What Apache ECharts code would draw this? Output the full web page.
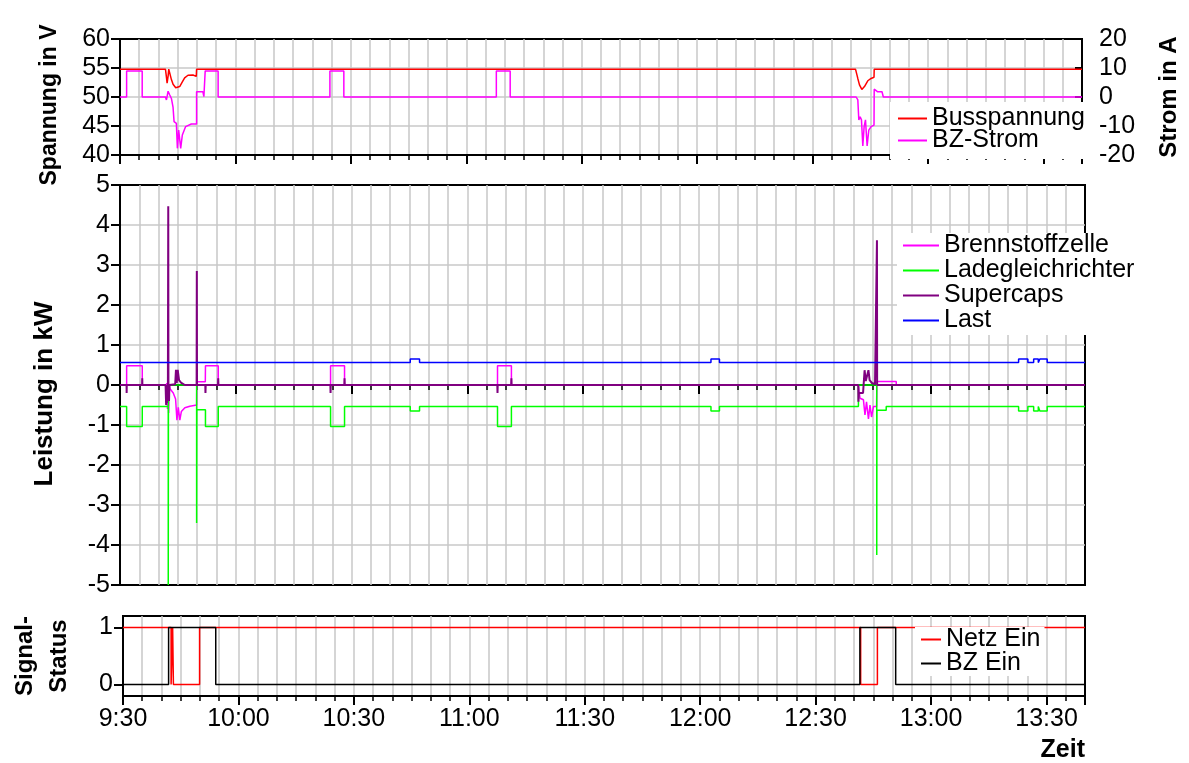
<!DOCTYPE html>
<html><head><meta charset="utf-8">
<script src="https://cdn.jsdelivr.net/npm/echarts@6/dist/echarts.min.js"></script>
<style>html,body{margin:0;padding:0;background:#fff}#c{width:1189px;height:763px}</style>
</head><body><div id="c"></div><script>
// x values: minutes after 9:30
const xTickLabels = ['9:30','10:00','10:30','11:00','11:30','12:00','12:30','13:00','13:30'];

// top panel
const busspannung = [[0,54.8],[11.81,54.8],[12.05,53.5],[12.24,52.4],[12.5,53.6],[12.67,54.8],[12.93,54.6],[13.36,53.0],[13.79,52.2],[14.48,51.6],[14.91,51.35],[15.51,51.8],[16.2,52.6],[16.8,53.3],[17.67,53.75],[18.96,53.8],[19.82,53.55],[19.9,54.8],[191.14,54.8],[191.74,53.2],[192.17,52.1],[192.78,51.3],[193.04,51.2],[193.47,51.8],[194.33,52.8],[195.19,53.2],[195.95,53.4],[196.0,54.8],[250,54.8]];
const bzStrom = [[0,0],[1.72,0],[1.72,9],[5.77,9],[5.77,0],[11.81,0],[12.07,-1.0],[12.5,2.0],[12.93,0.7],[13.36,-0.5],[13.79,-3.6],[14.05,-8.5],[14.65,-9.1],[14.91,-17.7],[15.25,-11.4],[15.6,-12],[15.77,-17.7],[16.2,-13.1],[17.06,-10.2],[18.53,-9.3],[19.9,-9.3],[19.9,1.8],[21.54,1.8],[21.8,0.1],[22.14,0.1],[22.14,9],[25.5,9],[25.5,0],[54.55,0],[54.55,9],[58.17,9],[58.17,0],[97.8,0],[97.8,9],[101.4,9],[101.4,0],[191.31,0],[191.74,-1.0],[192.0,-7.9],[192.34,-6.8],[192.69,-7.9],[193.04,-16.9],[193.38,-10.2],[193.73,-7.9],[194.16,-16.9],[194.59,-11.4],[195.19,-10.2],[195.95,-9.7],[196.0,2.7],[196.91,1.8],[198.03,1.8],[198.37,0],[250,0]];

// middle panel (kW)
const brennstoffzelle = [[0,0],[1.72,0],[1.72,0.48],[5.77,0.48],[5.77,0],[11.81,0],[12.0,-0.3],[12.1,0.05],[12.3,-0.6],[12.45,0.05],[12.6,-0.7],[12.75,0.0],[13.0,-0.1],[13.8,-0.2],[14.4,-0.35],[14.75,-0.88],[15.1,-0.56],[15.5,-0.88],[15.9,-0.66],[16.8,-0.57],[18.1,-0.53],[19.85,-0.5],[19.9,0.08],[22.1,0.08],[22.14,0.48],[25.45,0.48],[25.45,0],[54.55,0],[54.55,0.48],[58.17,0.48],[58.17,0],[97.8,0],[97.8,0.48],[101.4,0.48],[101.4,0],[191.3,0],[191.7,-0.33],[192.6,-0.37],[193.0,-0.75],[193.4,-0.42],[193.9,-0.85],[194.3,-0.5],[194.7,-0.8],[195.2,-0.54],[196.0,-0.54],[196.1,0.09],[201.1,0.09],[201.1,0],[250,0]];
const ladegleichrichter = [[0,-0.54],[1.72,-0.54],[1.72,-1.04],[5.77,-1.04],[5.77,-0.54],[12.5,-0.54],[12.5,-5.0],[12.55,0.0],[19.85,0.0],[19.85,-3.45],[19.9,-0.62],[22.14,-0.62],[22.14,-1.04],[25.45,-1.04],[25.45,-0.54],[54.55,-0.54],[54.55,-1.04],[58.17,-1.04],[58.17,-0.54],[75.2,-0.54],[75.2,-0.65],[77.6,-0.65],[77.6,-0.54],[97.8,-0.54],[97.8,-1.04],[101.4,-1.04],[101.4,-0.54],[153.1,-0.54],[153.1,-0.65],[155.3,-0.65],[155.3,-0.54],[191.3,-0.54],[191.3,0.0],[196.05,0.0],[196.05,-4.25],[196.1,-0.63],[198.5,-0.63],[198.5,-0.54],[232.8,-0.54],[232.8,-0.65],[235.2,-0.65],[235.2,-0.54],[236.7,-0.54],[236.7,-0.65],[237.9,-0.65],[237.9,-0.54],[238.3,-0.54],[238.3,-0.65],[240.2,-0.65],[240.2,-0.54],[250,-0.54]];
const supercaps = [[0,0],[1.7,0],[1.72,-0.2],[1.75,0],[5.75,0],[5.77,0.17],[5.8,0],[11.81,0],[11.95,-0.5],[12.05,0],[12.15,-0.45],[12.25,0],[12.4,-0.35],[12.5,4.47],[12.55,0],[12.7,-0.4],[12.8,0],[14.3,0.02],[14.5,0.38],[14.7,0.05],[14.95,0.38],[15.3,0.12],[15.8,0.06],[16.8,0],[19.85,0],[19.9,2.85],[19.95,0],[22.1,0],[22.14,-0.2],[22.2,0],[25.4,0],[25.45,0.17],[25.5,0],[54.5,0],[54.55,-0.2],[54.6,0],[58.12,0],[58.17,0.17],[58.22,0],[97.75,0],[97.8,-0.2],[97.85,0],[101.35,0],[101.4,0.17],[101.45,0],[191.25,0],[191.3,-0.42],[191.4,-0.2],[192.5,-0.2],[192.9,0.37],[193.2,0.1],[193.5,0.05],[193.9,0.37],[194.2,0.12],[194.8,0.05],[195.6,0.02],[196.05,0],[196.1,3.62],[196.15,0],[250,0]];
const last = [[0,0.56],[75.2,0.56],[75.2,0.65],[77.6,0.65],[77.6,0.56],[153.1,0.56],[153.1,0.65],[155.3,0.65],[155.3,0.56],[232.8,0.56],[232.8,0.65],[235.2,0.65],[235.2,0.56],[236.7,0.56],[236.7,0.65],[237.9,0.65],[237.9,0.56],[238.3,0.56],[238.3,0.65],[240.2,0.65],[240.2,0.56],[250,0.56]];

// bottom panel (status)
const netzEin = [[0,1],[12.5,1],[12.5,0],[12.9,0],[12.9,1],[13.1,1],[13.1,0],[19.9,0],[19.9,1],[191.7,1],[191.7,0],[196.05,0],[196.05,1],[250,1]];
const bzEin = [[0,0],[11.85,0],[11.85,1],[24.1,1],[24.1,0],[191.5,0],[191.5,1],[200.8,1],[200.8,0],[250,0]];

const FONT = '"Liberation Sans", Arial, Helvetica, sans-serif';
const GRID_C = '#c8c8c8';
const FS = 25;

function xAxisCfg(gi, showLabel, onZero) {
  return {
    type: 'value', gridIndex: gi, min: 0, max: 250, interval: 30,
    axisLine: { show: true, onZero: onZero, lineStyle: { color: '#000', width: 2 } },
    axisTick: { show: true, length: 9, lineStyle: { color: '#000', width: 2 } },
    minorTick: { show: true, splitNumber: 6, length: 5, lineStyle: { color: '#000', width: 1.5 } },
    splitLine: { show: true, showMinLine: false, showMaxLine: false, lineStyle: { color: GRID_C, width: 1.5 } },
    minorSplitLine: { show: true, lineStyle: { color: GRID_C, width: 1.5 } },
    axisLabel: { show: showLabel, fontSize: FS, fontFamily: FONT, color: '#000', margin: 11,
      formatter: v => xTickLabels[Math.round(v / 30)] || '' }
  };
}
function nameStyle(size) {
  return { fontSize: size, fontWeight: 'bold', fontFamily: FONT, color: '#000' };
}
const lab = { fontSize: FS, fontFamily: FONT, color: '#000', margin: 10 };
const spl = { show: true, showMinLine: false, showMaxLine: false, lineStyle: { color: GRID_C, width: 1.5 } };
const legText = { fontSize: FS, fontFamily: FONT, color: '#000' };

function lineSeries(name, xi, yi, data, color, width) {
  return { name: name, type: 'line', xAxisIndex: xi, yAxisIndex: yi, data: data, symbol: 'none',
    color: color, lineStyle: { width: width }, smooth: false };
}

const option = {
  animation: false,
  backgroundColor: '#fff',
  title: { text: 'Zeit', right: 104, top: 738, padding: 0,
    textStyle: { fontSize: 25, fontWeight: 'bold', fontFamily: FONT, color: '#000' } },
  grid: [
    { left: 120, width: 965, top: 39, height: 116, show: true, borderColor: '#000', borderWidth: 2, backgroundColor: 'transparent' },
    { left: 120, width: 965, top: 185, height: 400, show: true, borderColor: '#000', borderWidth: 2, backgroundColor: 'transparent' },
    { left: 120, width: 965, top: 616, height: 80, show: true, borderColor: '#000', borderWidth: 2, backgroundColor: 'transparent' }
  ],
  xAxis: [ xAxisCfg(0, false, false), xAxisCfg(1, false, true), xAxisCfg(2, true, false) ],
  yAxis: [
    { type: 'value', gridIndex: 0, min: 40, max: 60, interval: 5,
      name: 'Spannung in V', nameLocation: 'middle', nameGap: 59,
      nameTextStyle: Object.assign(nameStyle(23), { padding: [0, 16, 0, 0] }),
      axisLine: { show: true, lineStyle: { color: '#000', width: 2 } },
      axisTick: { show: true, length: 9, lineStyle: { color: '#000', width: 2 } },
      axisLabel: lab, splitLine: spl },
    { type: 'value', gridIndex: 0, position: 'right', min: -20, max: 20, interval: 10,
      name: 'Strom in A', nameLocation: 'middle', nameGap: 75, nameRotate: 90,
      nameTextStyle: nameStyle(24),
      axisLine: { show: true, lineStyle: { color: '#000', width: 2 } },
      axisTick: { show: true, inside: true, length: 7, lineStyle: { color: '#000', width: 2 } },
      axisLabel: Object.assign({}, lab, { margin: 17 }), splitLine: { show: false } },
    { type: 'value', gridIndex: 1, min: -5, max: 5, interval: 1,
      name: 'Leistung in kW', nameLocation: 'middle', nameGap: 62,
      nameTextStyle: Object.assign(nameStyle(26), { padding: [0, 18, 0, 0] }),
      axisLine: { show: true, lineStyle: { color: '#000', width: 2 } },
      axisTick: { show: true, length: 9, lineStyle: { color: '#000', width: 2 } },
      axisLabel: lab, splitLine: spl },
    { type: 'value', gridIndex: 2, min: -0.2, max: 1.2,
      name: 'Signal-\nStatus', nameLocation: 'middle', nameGap: 47,
      nameTextStyle: Object.assign(nameStyle(24), { lineHeight: 34 }),
      axisLine: { show: true, lineStyle: { color: '#000', width: 2 } },
      axisTick: { show: true, length: 9, customValues: [0, 1], lineStyle: { color: '#000', width: 2 } },
      axisLabel: Object.assign({}, lab, { customValues: [0, 1] }), splitLine: { show: false } }
  ],
  legend: [
    { data: ['Busspannung', 'BZ-Strom'], orient: 'vertical', left: 890, top: 102,
      padding: [4, 6, 6, 8], itemGap: -3, icon: 'rect', itemWidth: 29, itemHeight: 2,
      backgroundColor: '#fff', textStyle: legText },
    { data: ['Brennstoffzelle', 'Ladegleichrichter', 'Supercaps', 'Last'], orient: 'vertical', left: 897, top: 233,
      padding: [0, 4, 2, 6], itemGap: 0, icon: 'rect', itemWidth: 36, itemHeight: 2,
      backgroundColor: '#fff', textStyle: legText },
    { data: ['Netz Ein', 'BZ Ein'], orient: 'vertical', left: 915, top: 627,
      padding: [0, 4, 0, 6], itemGap: -1, icon: 'rect', itemWidth: 20, itemHeight: 2,
      backgroundColor: '#fff', textStyle: legText }
  ],
  series: [
    lineSeries('Busspannung', 0, 0, busspannung, '#ff0000', 1.5),
    lineSeries('BZ-Strom', 0, 1, bzStrom, '#ff00ff', 1.5),
    lineSeries('Brennstoffzelle', 1, 2, brennstoffzelle, '#ff00ff', 1.5),
    lineSeries('Ladegleichrichter', 1, 2, ladegleichrichter, '#00ff00', 1.5),
    lineSeries('Supercaps', 1, 2, supercaps, '#800080', 2),
    lineSeries('Last', 1, 2, last, '#0000ff', 1.5),
    lineSeries('Netz Ein', 2, 3, netzEin, '#ff0000', 1.5),
    lineSeries('BZ Ein', 2, 3, bzEin, '#000000', 1.5)
  ]
};
const chart = echarts.init(document.getElementById('c'), null, { renderer: 'canvas' });
chart.setOption(option);
</script></body></html>
